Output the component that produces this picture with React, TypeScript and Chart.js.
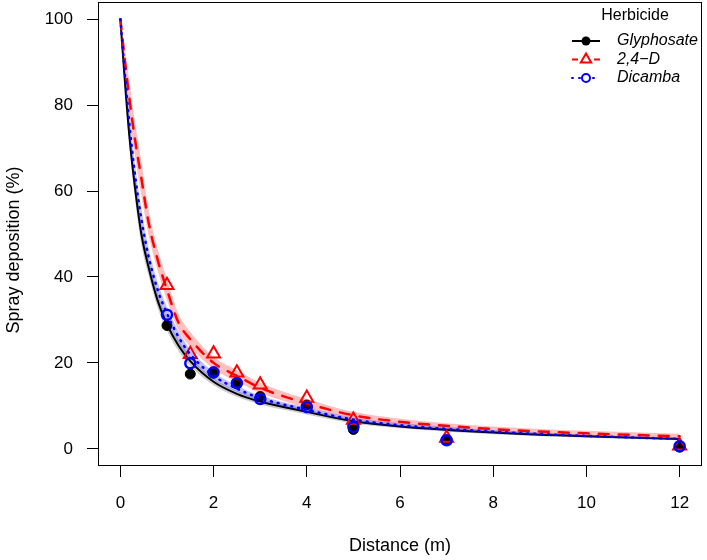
import React, { useEffect, useRef } from 'react';
import { Chart, registerables } from 'chart.js';

Chart.register(...registerables);

const FONT = "'Liberation Sans', Arial, Helvetica, sans-serif";

// ---- Axis / labels ----
const xTicks = [0, 2, 4, 6, 8, 10, 12];
const yTicks = [0, 20, 40, 60, 80, 100];
const xTitle = 'Distance (m)';
const yTitle = 'Spray deposition (%)';
const legendTitle = 'Herbicide';
const seriesNames = ['Glyphosate', '2,4\u2212D', 'Dicamba'];

// ---- Observed means ----
const distances = [1, 1.5, 2, 2.5, 3, 4, 5, 7, 12];
const glyphosatePts = [28.7, 17.4, 17.6, 15.1, 12.2, 10.2, 4.5, 2.0, 0.4];
const twoFourDPts = [38.1, 22.0, 22.1, 17.7, 14.9, 11.8, 6.7, 2.5, 0.7];
const dicambaPts = [31.2, 19.9, 17.8, 15.3, 11.6, 9.7, 5.1, 2.0, 0.6];

// ---- Fitted curves ----
const curveX = [0, 0.1, 0.2, 0.3, 0.45, 0.6, 0.8, 1, 1.25, 1.5, 2, 2.5, 3, 4, 5, 6, 8, 10, 12];

const glyphosateFit = [100, 85, 72, 62, 50, 42.5, 34.5, 29, 24, 20.4, 15.6, 12.8, 11.0, 8.6, 6.4, 5.2, 3.8, 2.9, 2.3];
const glyphosateLo = [100, 83, 69.5, 59.5, 47.5, 40.5, 32.8, 27.5, 22.7, 19.3, 14.8, 12.1, 10.3, 8.0, 5.9, 4.8, 3.4, 2.6, 2.0];
const glyphosateHi = [100, 87, 74.5, 64.5, 52.5, 44.5, 36.2, 30.5, 25.3, 21.5, 16.4, 13.5, 11.7, 9.2, 6.9, 5.6, 4.2, 3.2, 2.6];

const twoFourDFit = [100, 90, 81, 73, 63, 53, 44, 37, 29.3, 25.5, 20, 17, 14.2, 10.6, 7.8, 6.3, 4.6, 3.6, 2.9];
const twoFourDLo = [100, 87, 77, 69, 59, 50, 41.5, 34.5, 27.5, 23.8, 18.6, 15.7, 13.0, 9.6, 7.0, 5.6, 4.0, 3.0, 2.3];
const twoFourDHi = [100, 93, 85, 77, 67, 56, 46.5, 39.5, 31.3, 27.2, 21.4, 18.3, 15.4, 11.6, 8.6, 7.0, 5.2, 4.2, 3.5];

const dicambaFit = [100, 87, 75, 65, 53.5, 45, 37, 31.5, 26, 22, 17, 14, 11.8, 9.1, 6.8, 5.5, 4.0, 3.0, 2.3];
const dicambaLo = [100, 85, 72.5, 62.5, 51, 43, 35.3, 30, 24.7, 20.9, 16.1, 13.3, 11.2, 8.6, 6.3, 5.0, 3.6, 2.7, 2.0];
const dicambaHi = [100, 89, 77.5, 67.5, 56, 47, 38.7, 33, 27.3, 23.1, 17.9, 14.7, 12.4, 9.6, 7.3, 6.0, 4.4, 3.3, 2.6];

const BLACK = '#000000';
const RED = '#FF0000';
const BLUE = '#0000FF';

const toXY = (xs: number[], ys: number[]) => xs.map((x, i) => ({ x, y: ys[i] }));

function bandSets(lo: number[], hi: number[], color: string) {
  return [
    {
      data: toXY(curveX, hi),
      borderWidth: 0,
      pointRadius: 0,
      fill: '+1',
      backgroundColor: color,
      borderColor: 'transparent',
      cubicInterpolationMode: 'monotone',
    },
    {
      data: toXY(curveX, lo),
      borderWidth: 0,
      pointRadius: 0,
      fill: false,
      borderColor: 'transparent',
      cubicInterpolationMode: 'monotone',
    },
  ];
}

function lineSet(ys: number[], color: string, dash: number[], width: number) {
  return {
    data: toXY(curveX, ys),
    borderColor: color,
    borderWidth: width,
    borderDash: dash,
    borderCapStyle: 'round',
    pointRadius: 0,
    fill: false,
    cubicInterpolationMode: 'monotone',
  };
}

function pointSet(ys: number[], color: string, style: string, radius: number, filled: boolean, bw: number) {
  return {
    data: toXY(distances, ys),
    showLine: false,
    pointStyle: style,
    pointRadius: radius,
    pointBorderColor: color,
    pointBackgroundColor: filled ? color : 'rgba(0,0,0,0)',
    pointBorderWidth: bw,
    borderColor: color,
    fill: false,
  };
}

const zeroPad = (s: any) => {
  s.paddingTop = 0;
  s.paddingBottom = 0;
  s.paddingLeft = 0;
  s.paddingRight = 0;
};

const chromePlugin = {
  id: 'chrome',
  afterDraw(chart: any) {
    const { ctx, chartArea } = chart;
    ctx.save();
    // box
    ctx.strokeStyle = '#000';
    ctx.lineWidth = 1;
    ctx.setLineDash([]);
    ctx.strokeRect(
      Math.round(chartArea.left) + 0.5,
      Math.round(chartArea.top) + 0.5,
      Math.round(chartArea.right - chartArea.left) - 1,
      Math.round(chartArea.bottom - chartArea.top) - 1
    );
    // axis titles
    ctx.fillStyle = '#000';
    ctx.font = `18px ${FONT}`;
    ctx.textAlign = 'center';
    ctx.textBaseline = 'middle';
    ctx.fillText(xTitle, (chartArea.left + chartArea.right) / 2, 546);
    ctx.save();
    ctx.translate(14, 250);
    ctx.rotate(-Math.PI / 2);
    ctx.fillText(yTitle, 0, 0);
    ctx.restore();

    // legend
    ctx.font = `16px ${FONT}`;
    ctx.fillText(legendTitle, 635, 16);
    const rowsY = [41, 59.5, 78];
    const x1 = 572, x2 = 600, xm = 586, tx = 617;
    const styles = [
      { color: BLACK, dash: [] as number[], w: 2 },
      { color: RED, dash: [6, 16], w: 2 },
      { color: BLUE, dash: [1, 6], w: 2 },
    ];
    styles.forEach((s, i) => {
      const y = rowsY[i];
      ctx.strokeStyle = s.color;
      ctx.lineWidth = s.w;
      ctx.lineCap = i === 2 ? 'round' : 'butt';
      ctx.setLineDash(s.dash);
      ctx.beginPath();
      ctx.moveTo(x1, y);
      ctx.lineTo(x2, y);
      ctx.stroke();
      ctx.setLineDash([]);
      ctx.lineWidth = 2;
      if (i === 0) {
        ctx.fillStyle = BLACK;
        ctx.beginPath();
        ctx.arc(xm, y, 4.5, 0, Math.PI * 2);
        ctx.fill();
      } else if (i === 1) {
        const r = 6;
        ctx.beginPath();
        ctx.moveTo(xm, y - r);
        ctx.lineTo(xm + r * 0.866, y + r * 0.5);
        ctx.lineTo(xm - r * 0.866, y + r * 0.5);
        ctx.closePath();
        ctx.fillStyle = '#fff';
        ctx.fill();
        ctx.stroke();
      } else {
        ctx.beginPath();
        ctx.arc(xm, y, 4, 0, Math.PI * 2);
        ctx.fillStyle = '#fff';
        ctx.fill();
        ctx.stroke();
      }
      ctx.fillStyle = '#000';
      ctx.font = `italic 16px ${FONT}`;
      ctx.textAlign = 'left';
      ctx.textBaseline = 'middle';
      ctx.fillText(seriesNames[i], tx, y);
    });
    ctx.restore();
  },
};

export default function App() {
  const ref = useRef<HTMLCanvasElement>(null);
  useEffect(() => {
    document.body.style.margin = '0';
    const datasets: any[] = [
      pointSet(dicambaPts, BLUE, 'circle', 5, false, 2.5),
      lineSet(dicambaFit, BLUE, [1, 6], 2.5),
      ...bandSets(dicambaLo, dicambaHi, 'rgba(0,0,255,0.25)'),
      pointSet(twoFourDPts, RED, 'triangle', 7.5, false, 2),
      lineSet(twoFourDFit, RED, [10, 10], 2.5),
      ...bandSets(twoFourDLo, twoFourDHi, 'rgba(255,0,0,0.25)'),
      pointSet(glyphosatePts, BLACK, 'circle', 5, true, 1),
      lineSet(glyphosateFit, BLACK, [], 2),
      ...bandSets(glyphosateLo, glyphosateHi, 'rgba(0,0,0,0.2)'),
    ];
    const chart = new Chart(ref.current as HTMLCanvasElement, {
      type: 'line',
      data: { datasets },
      plugins: [chromePlugin],
      options: {
        animation: false,
        responsive: false,
        devicePixelRatio: 1,
        layout: { autoPadding: false, padding: { top: 2, right: 5, left: 0, bottom: 0 } },
        plugins: { legend: { display: false }, tooltip: { enabled: false } },
        elements: { line: { tension: 0 } },
        scales: {
          x: {
            type: 'linear',
            min: -0.48,
            max: 12.48,
            afterBuildTicks: (s: any) => {
              s.ticks = xTicks.map((v) => ({ value: v }));
            },
            afterFit: (s: any) => {
              s.height = 94;
              zeroPad(s);
            },
            grid: { display: true, drawOnChartArea: false, drawTicks: true, tickLength: 11, color: '#000', lineWidth: 1 },
            border: { display: false },
            ticks: { color: '#000', font: { family: FONT, size: 17 }, padding: 16, maxRotation: 0 },
          },
          y: {
            type: 'linear',
            min: -4,
            max: 104,
            afterBuildTicks: (s: any) => {
              s.ticks = yTicks.map((v) => ({ value: v }));
            },
            afterFit: (s: any) => {
              s.width = 98;
              zeroPad(s);
            },
            grid: { display: true, drawOnChartArea: false, drawTicks: true, tickLength: 11, color: '#000', lineWidth: 1 },
            border: { display: false },
            ticks: { color: '#000', font: { family: FONT, size: 17 }, padding: 14 },
          },
        },
      } as any,
    });
    return () => chart.destroy();
  }, []);
  return (
    <div style={{ width: 707, height: 560 }}>
      <canvas ref={ref} width={707} height={560} style={{ display: 'block' }} />
    </div>
  );
}
